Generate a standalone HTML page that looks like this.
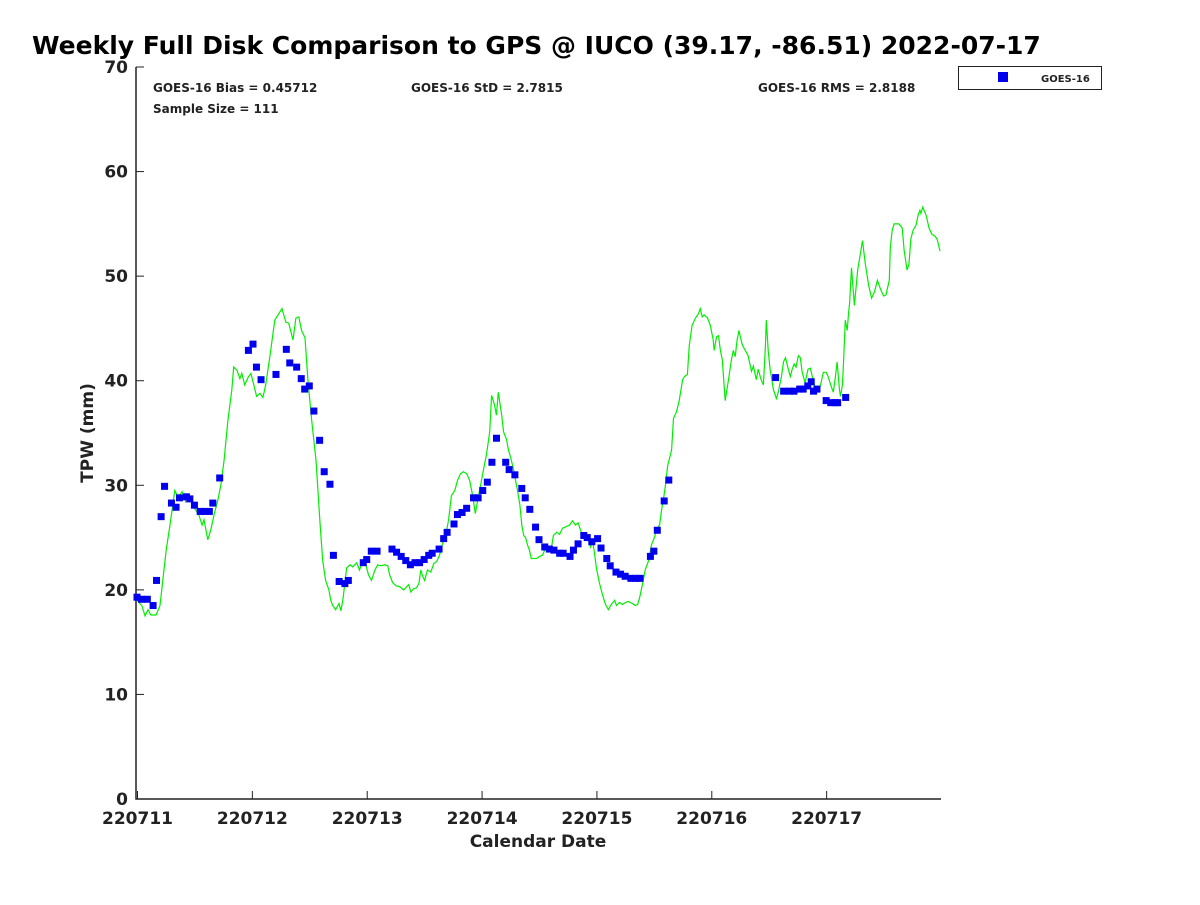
<!DOCTYPE html>
<html><head><meta charset="utf-8"><style>
body{margin:0;background:#fff;}
svg text{font-family:"DejaVu Sans","Liberation Sans",sans-serif;font-weight:bold;fill:#222;}
</style></head><body>
<svg id="chart" width="1200" height="900" xmlns="http://www.w3.org/2000/svg">
<text x="32" y="54" font-size="25" style="fill:#000">Weekly Full Disk Comparison to GPS @ IUCO (39.17, -86.51) 2022-07-17</text>
<text x="153" y="92" font-size="12">GOES-16 Bias = 0.45712</text>
<text x="411" y="92" font-size="12">GOES-16 StD = 2.7815</text>
<text x="758" y="92" font-size="12">GOES-16 RMS = 2.8188</text>
<text x="153" y="113" font-size="12">Sample Size = 111</text>
<g>
<rect x="958.5" y="66.5" width="143" height="23" fill="#fff" stroke="#222"/>
<rect x="998" y="72" width="10" height="10" fill="#0000ee"/>
<text x="1041" y="82" font-size="10">GOES-16</text>
</g>
<g id="axes"></g>
<g id="marks"></g>
<text x="538" y="847" font-size="17" text-anchor="middle">Calendar Date</text>
<text transform="translate(93,433) rotate(-90)" font-size="17" text-anchor="middle">TPW (mm)</text>
</svg>
<script>
const xTickLabels=["220711","220712","220713","220714","220715","220716","220717"];
const yTickLabels=[0,10,20,30,40,50,60,70];
const goesDay=[0.00,0.04,0.09,0.14,0.17,0.21,0.24,0.30,0.34,0.37,0.43,0.46,0.50,0.55,0.59,0.63,0.66,0.72,0.97,1.01,1.04,1.08,1.21,1.30,1.33,1.39,1.43,1.46,1.50,1.54,1.59,1.63,1.68,1.71,1.76,1.81,1.84,1.97,2.00,2.04,2.09,2.22,2.26,2.30,2.34,2.38,2.42,2.46,2.50,2.54,2.57,2.63,2.67,2.70,2.76,2.79,2.83,2.87,2.93,2.97,3.01,3.05,3.09,3.13,3.21,3.24,3.29,3.35,3.38,3.42,3.47,3.50,3.55,3.59,3.63,3.68,3.71,3.77,3.80,3.84,3.89,3.92,3.96,4.01,4.04,4.09,4.12,4.17,4.21,4.25,4.30,4.34,4.38,4.47,4.50,4.53,4.59,4.63,5.56,5.63,5.68,5.72,5.77,5.80,5.84,5.87,5.89,5.92,6.00,6.04,6.08,6.10,6.17];
const goesTPW=[19.3,19.1,19.1,18.5,20.9,27.0,29.9,28.3,27.9,28.8,28.9,28.7,28.1,27.5,27.5,27.5,28.3,30.7,42.9,43.5,41.3,40.1,40.6,43.0,41.7,41.3,40.2,39.2,39.5,37.1,34.3,31.3,30.1,23.3,20.8,20.6,20.9,22.6,22.9,23.7,23.7,23.9,23.6,23.2,22.8,22.4,22.6,22.6,22.9,23.3,23.5,23.9,24.9,25.5,26.3,27.2,27.4,27.8,28.8,28.8,29.5,30.3,32.2,34.5,32.2,31.5,31.0,29.7,28.8,27.7,26.0,24.8,24.1,23.9,23.8,23.5,23.5,23.2,23.8,24.4,25.2,25.0,24.6,24.9,24.0,23.0,22.3,21.7,21.5,21.3,21.1,21.1,21.1,23.2,23.7,25.7,28.5,30.5,40.3,39.0,39.0,39.0,39.2,39.2,39.5,39.9,39.0,39.2,38.1,37.9,37.9,37.9,38.4];
const gpsHour=[0,1.0,1.7,2.3,2.9,4.0,4.8,5.4,6.1,6.9,7.9,8.6,9.4,10.2,11.1,11.7,12.3,12.9,13.6,14.0,14.8,15.4,16.1,16.9,17.5,18.2,19.0,19.8,20.2,20.9,21.5,21.9,22.5,23.2,23.8,24.4,25.0,25.7,26.3,26.9,27.8,28.8,30.3,31.1,31.7,32.6,33.2,33.8,34.4,35.1,35.7,36.5,37.4,38.2,38.8,39.4,40.1,40.5,40.9,41.5,42.2,42.6,43.0,43.4,43.8,44.5,45.1,45.9,46.5,47.2,47.8,48.4,49.0,49.7,50.3,50.9,51.8,52.4,52.8,53.4,54.1,54.9,55.7,56.8,57.2,57.8,58.4,58.9,59.3,59.7,60.1,60.7,61.4,62.0,62.6,63.2,63.9,64.5,65.1,65.7,66.4,67.0,67.6,68.2,68.9,69.5,70.1,70.7,71.4,71.8,72.4,73.0,73.7,74.1,74.7,75.1,75.5,76.2,76.6,77.2,77.6,78.1,78.7,79.1,79.5,80.0,80.4,80.8,81.2,81.6,82.0,82.4,83.5,84.1,84.7,85.4,86.0,86.6,87.0,87.7,88.3,88.9,89.5,90.4,91.0,91.6,92.2,92.9,93.5,94.1,94.8,95.2,95.6,96.0,96.6,97.3,97.9,98.5,99.1,99.8,100.2,100.8,101.4,102.1,102.7,103.5,104.1,104.6,105.0,105.6,106.2,106.9,107.5,108.1,108.7,109.2,109.6,110.0,110.4,110.9,111.3,111.7,112.1,112.7,113.3,114.0,114.4,115.0,115.4,116.0,116.7,117.3,117.7,118.1,118.5,119.2,119.8,120.4,120.6,121.1,121.5,121.9,122.3,122.9,123.6,124.2,124.6,125.0,125.4,125.8,126.1,126.5,127.1,127.7,128.4,128.8,129.4,129.8,130.4,130.9,131.3,131.5,131.9,132.3,133.0,133.6,134.0,134.7,135.1,135.5,136.1,136.5,136.9,137.3,137.7,138.2,138.6,139.0,139.6,140.2,140.7,141.1,141.7,142.1,142.8,143.4,144.0,144.4,145.1,145.5,145.9,146.3,146.8,147.0,147.4,147.6,148.0,148.4,148.7,148.9,149.3,149.9,150.6,151.0,151.6,152.2,152.9,153.5,154.1,154.7,155.4,156.0,156.5,156.7,157.2,157.4,157.8,158.2,159.2,159.9,160.3,160.9,161.3,161.7,162.2,162.8,163.2,163.6,163.8,164.2,164.9,165.5,166.1,166.8,167.2,167.8];
const gpsTPW=[19.0,18.5,17.5,18.1,17.6,17.6,18.5,20.9,23.8,26.2,29.5,28.8,29.4,28.4,28.8,28.0,27.6,27.2,26.2,26.7,24.8,25.7,27.2,28.6,30.0,32.4,36.2,39.1,41.3,41.0,40.2,40.7,39.6,40.3,40.7,39.6,38.5,38.8,38.4,39.6,42.4,45.8,46.9,45.6,45.5,43.9,46.0,46.1,44.8,44.1,40.1,36.2,32.4,26.7,22.8,20.9,20.0,19.0,18.5,18.1,18.7,18.0,19.0,20.5,22.1,22.4,22.2,22.6,21.9,22.8,22.4,21.4,20.9,21.9,22.4,22.3,22.4,22.3,21.4,20.7,20.4,20.3,20.0,20.5,19.8,20.1,20.2,20.6,21.9,21.3,20.9,21.9,21.7,22.5,22.7,23.3,24.5,25.2,26.7,29.0,29.5,30.5,31.1,31.3,31.1,30.5,29.1,27.3,29.1,30.0,31.5,32.9,35.1,38.6,37.7,36.7,38.9,36.7,35.1,34.4,33.4,32.6,31.5,30.5,29.5,28.1,26.2,25.2,25.0,24.3,23.8,23.0,23.0,23.2,23.3,24.0,23.8,24.0,25.2,25.5,25.3,25.9,26.0,26.2,26.6,26.2,26.4,25.4,24.8,25.0,24.1,24.8,23.5,22.1,20.7,19.5,18.6,18.1,18.6,19.0,18.5,18.8,18.6,18.8,18.9,18.7,18.5,18.6,19.2,20.5,21.9,22.8,24.3,25.0,25.9,26.2,27.6,28.6,29.9,31.9,32.6,33.4,36.4,37.0,38.1,40.1,40.4,40.6,43.4,45.3,46.0,46.4,46.9,46.1,46.3,46.0,45.3,43.9,42.9,44.2,44.3,42.9,42.0,38.1,40.1,42.0,42.9,42.3,43.9,44.8,44.1,43.4,42.9,42.4,40.9,41.4,40.1,41.1,40.1,39.6,43.3,45.8,42.9,41.1,39.1,38.3,38.9,40.5,41.8,42.2,41.1,40.4,41.1,41.6,41.3,42.4,42.2,40.8,39.8,41.1,41.2,40.4,39.4,38.9,39.5,40.8,40.8,40.4,39.4,38.9,40.2,41.8,39.1,38.5,39.6,41.5,45.8,44.8,46.5,47.4,50.8,47.2,50.6,51.7,53.4,51.1,49.1,47.9,48.5,49.6,48.7,48.1,48.2,48.6,49.6,52.7,54.4,55.0,55.0,54.6,52.5,50.6,51.1,53.6,54.4,54.9,55.8,56.3,56.0,56.6,55.8,54.6,54.0,53.8,53.5,52.4];

const NS="http://www.w3.org/2000/svg";
const L=137,R=941,T=67,B=799;
const xs=d=>L+(R-L)*d/7;
const ys=v=>B-(B-T)*v/70;
const axes=document.getElementById('axes'),marks=document.getElementById('marks');
function mk(tag,attrs,parent){const e=document.createElementNS(NS,tag);for(const k in attrs)e.setAttribute(k,attrs[k]);parent.appendChild(e);return e;}
let a=mk('path',{d:`M${L-1},${T} V${B} H${R}`,fill:'none',stroke:'#222','stroke-width':1.5},axes);


yTickLabels.forEach(v=>{
  const y=ys(v);
  const t=mk('line',{x1:L-1,x2:L+7,y1:y,y2:y,stroke:'#222','stroke-width':1},axes);
  
  
  const tx=mk('text',{x:L-9,y:y+6,'font-size':17,'text-anchor':'end'},axes);
  tx.textContent=v;
  
  
});
xTickLabels.forEach((lab,i)=>{
  const x=xs(i)+0.5;
  const t=mk('line',{x1:x,x2:x,y1:B,y2:B-8,stroke:'#222','stroke-width':1},axes);
  
  
  const tx=mk('text',{x:x,y:B+25,'font-size':17,'text-anchor':'middle'},axes);
  tx.textContent=lab;
  
  
});
const pts=gpsHour.map((h,i)=>xs(h/24).toFixed(1)+','+ys(gpsTPW[i]).toFixed(1)).join(' ');
const line=mk('polyline',{points:pts,fill:'none',stroke:'#00ee00','stroke-width':1.2},marks);


goesDay.forEach((d,i)=>{
  const r=mk('rect',{x:xs(d)-3.5,y:ys(goesTPW[i])-3.5,width:7,height:7,fill:'#0000ee'},marks);
  
  
});
</script>
</body></html>
